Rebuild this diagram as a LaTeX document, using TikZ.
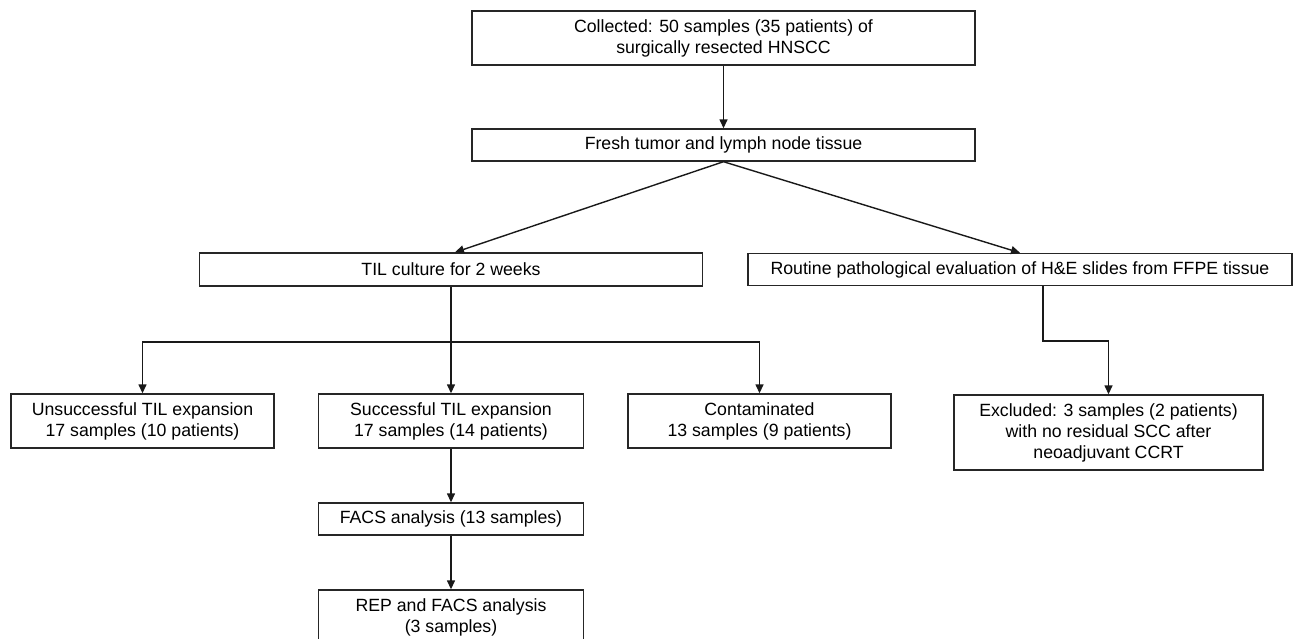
\documentclass[tikz,border=0pt]{standalone}
\usepackage{fontspec}
\setmainfont{Liberation Sans}
\usetikzlibrary{arrows.meta}
\begin{document}
\begin{tikzpicture}[x=1pt,y=-1pt,
  box/.style={draw=black!85,line width=1.4pt,align=center,inner sep=0pt,
    font=\fontsize{17.7}{21}\selectfont},
  conn/.style={draw=black!90,line width=1.4pt},
  arr/.style={conn,-{Triangle[length=9pt,width=8pt]}}]
\useasboundingbox (0,0) rectangle (1298,638);
\clip (0,0) rectangle (1298,638);
\node[box,minimum width=503pt,minimum height=54pt] (top) at (723.5,38)
  {Collected: 50 samples (35 patients) of\\surgically resected HNSCC};
\node[box,minimum width=503pt,minimum height=32pt] (fresh) at (723.5,145)
  {Fresh tumor and lymph node tissue};
\node[box,minimum width=503pt,minimum height=33pt] (til) at (451,269.5)
  {TIL culture for 2 weeks};
\node[box,minimum width=544pt,minimum height=32pt] (rout) at (1020,269.5)
  {Routine pathological evaluation of H\&E slides from FFPE tissue};
\node[box,minimum width=263pt,minimum height=54pt] (unsucc) at (142.5,421)
  {Unsuccessful TIL expansion\\17 samples (10 patients)};
\node[box,minimum width=265pt,minimum height=54pt] (succ) at (451,421)
  {Successful TIL expansion\\17 samples (14 patients)};
\node[box,minimum width=263pt,minimum height=54pt] (cont) at (759.5,421)
  {Contaminated\\13 samples (9 patients)};
\node[box,minimum width=309pt,minimum height=75pt] (excl) at (1108.5,432.5)
  {Excluded: 3 samples (2 patients)\\with no residual SCC after\\neoadjuvant CCRT};
\node[box,minimum width=265pt,minimum height=32pt] (facs) at (451,519)
  {FACS analysis (13 samples)};
\node[box,minimum width=265pt,minimum height=54pt] (rep) at (451,617)
  {REP and FACS analysis\\(3 samples)};
\coordinate (split) at (451,342);
\coordinate (rsplit) at (1043,341);
\draw[arr] (top.south) -- (fresh.north);
\draw[arr] (fresh.south) -- ([xshift=4pt]til.north);
\draw[arr] (fresh.south) -- (rout.north);
\draw[conn] (til.south) -- (split);
\draw[arr] (split) -- (succ.north);
\draw[arr] (split) -| (unsucc.north);
\draw[arr] (split) -| (cont.north);
\draw[arr] ([xshift=23pt]rout.south) -- (rsplit) -| (excl.north);
\draw[arr] (succ.south) -- (facs.north);
\draw[arr] (facs.south) -- (rep.north);
\end{tikzpicture}
\end{document}
